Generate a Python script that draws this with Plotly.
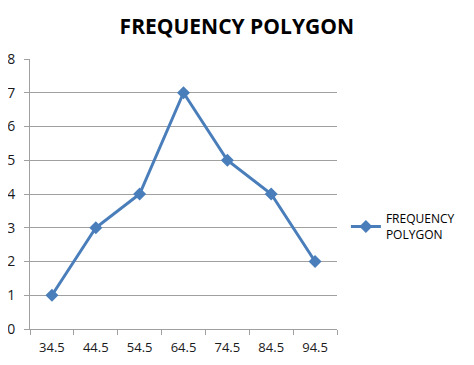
import plotly.graph_objects as go

categories = ["34.5", "44.5", "54.5", "64.5", "74.5", "84.5", "94.5"]
frequency = [1, 3, 4, 7, 5, 4, 2]
y_ticks = [0, 1, 2, 3, 4, 5, 6, 7, 8]

fig = go.Figure()
fig.add_trace(go.Scatter(
    x=categories, y=frequency, mode="lines+markers",
    name="FREQUENCY<br>POLYGON",
    line=dict(color="#4a7ebb", width=3),
    marker=dict(symbol="diamond", size=10, color="#4a7ebb"),
))

fig.update_layout(
    width=466, height=357,
    margin=dict(l=22, r=137, t=51, b=36, autoexpand=False),
    paper_bgcolor="white", plot_bgcolor="white",
    title=dict(text="<b>FREQUENCY POLYGON</b>", x=0.491, xanchor="center",
               xref="container", yref="container", y=0.947, yanchor="middle",
               font=dict(family="Open Sans", size=21, color="#000000")),
    font=dict(family="Open Sans", size=13, color="#1a1a1a"),
    showlegend=True,
    legend=dict(x=1.029, y=0.378, xanchor="left", yanchor="middle", itemwidth=30,
                font=dict(size=12, color="#000000"), bgcolor="rgba(0,0,0,0)"),
    xaxis=dict(type="category", tickson="boundaries", ticks="outside", ticklen=5,
               tickcolor="#a0a0a0", showline=True, linecolor="#a0a0a0", linewidth=1,
               showgrid=False, range=[-0.5, 6.5], tickfont=dict(size=13),
               automargin=False, ticklabelstandoff=6),
    yaxis=dict(range=[0, 8], tickvals=y_ticks, ticks="outside", ticklen=5,
               tickcolor="#a0a0a0", showline=True, linecolor="#a0a0a0", linewidth=1,
               gridcolor="#a0a0a0", gridwidth=1, zeroline=False, tickfont=dict(size=14),
               automargin=False, ticklabelstandoff=6),
)

fig.write_html("out.html")
